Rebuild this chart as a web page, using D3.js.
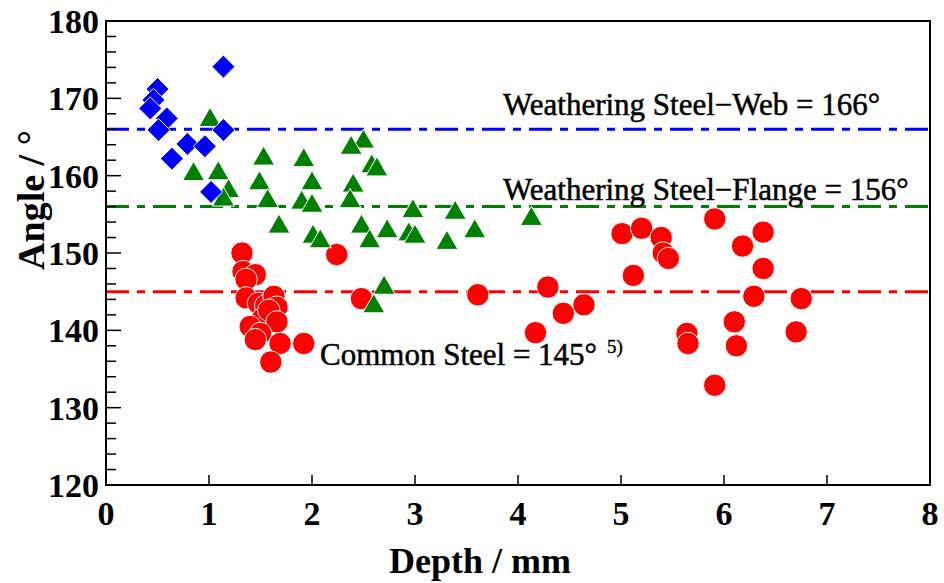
<!DOCTYPE html>
<html>
<head>
<meta charset="utf-8">
<script src="https://cdn.jsdelivr.net/npm/d3@7/dist/d3.min.js"></script>
<style>
  html, body { margin: 0; padding: 0; background: #fff; }
  svg { display: block; }
</style>
</head>
<body>
<svg id="chart" width="944" height="583"></svg>
<script>
// Weathering steel, web: [depth mm, angle deg]
const webDepth = [1.14, 0.50, 0.46, 0.43, 0.59, 0.51, 1.14, 0.79, 0.96, 0.64, 1.02];
const webAngle = [174.1, 171.2, 169.8, 168.7, 167.4, 165.9, 165.9, 164.1, 163.8, 162.2, 157.9];

// Weathering steel, flange
const flangeDepth = [1.01, 0.85, 1.09, 1.53, 1.92, 2.50, 2.38, 2.58, 2.63, 1.49, 2.00, 2.40,
  1.19, 1.14, 1.57, 1.90, 2.00, 2.37, 2.98, 3.39, 4.13, 1.68, 2.48, 2.73, 2.94, 3.00,
  3.58, 2.01, 2.08, 2.56, 3.31, 2.70, 2.60];
const flangeAngle = [167.6, 160.6, 160.7, 162.6, 162.4, 164.8, 164.0, 161.6, 161.2, 159.4, 159.4, 159.1,
  158.4, 157.3, 157.1, 156.9, 156.5, 157.1, 155.8, 155.6, 154.8, 153.8, 153.8, 153.2, 152.8, 152.5,
  153.2, 152.5, 151.9, 151.9, 151.7, 145.9, 143.5];

// Common steel
const commonDepth = [1.32, 1.33, 1.45, 1.36, 1.36, 1.48, 1.55, 1.63, 1.66, 1.52, 1.58, 1.40,
  1.66, 1.50, 1.45, 1.69, 1.92, 1.60, 2.24, 2.48, 3.61, 4.29, 4.44, 4.64, 4.17, 5.01,
  5.20, 5.12, 5.39, 5.41, 5.46, 5.91, 6.38, 6.18, 6.38, 6.29, 6.75, 6.10, 6.70, 5.64,
  5.65, 6.12, 5.91];
const commonAngle = [150.0, 147.6, 147.2, 146.6, 144.2, 143.5, 143.2, 144.4, 143.0, 141.5, 142.6, 140.5,
  141.1, 139.6, 138.8, 138.3, 138.3, 135.9, 149.8, 144.1, 144.6, 145.6, 142.2, 143.3, 139.7, 152.5,
  153.2, 147.1, 152.0, 150.0, 149.3, 154.4, 152.7, 150.9, 148.0, 144.4, 144.1, 141.1, 139.8, 139.6,
  138.3, 138.0, 132.9];

// Reference angles
const refNames = ["web", "flange", "common"];
const refValues = [166, 156, 145];
const refLabels = ["Weathering Steel\u2212Web = 166\u00B0", "Weathering Steel\u2212Flange = 156\u00B0", "Common Steel = 145\u00B0"];
const refNote = "5)";

const xTicks = [0, 1, 2, 3, 4, 5, 6, 7, 8];
const yTicks = [120, 130, 140, 150, 160, 170, 180];
const xTitle = "Depth / mm";
const yTitle = "Angle / \u00B0";

const SERIF = "'Liberation Serif', 'Times New Roman', Times, 'DejaVu Serif', serif";

const W = 944, H = 583;
const margin = { left: 106, right: 14, top: 21, bottom: 98 };
const svg = d3.select("#chart");
svg.append("rect").attr("width", W).attr("height", H).attr("fill", "#fff");

const x = d3.scaleLinear().domain([0, 8]).range([margin.left, W - margin.right]);
const y = d3.scaleLinear().domain([120, 180]).range([H - margin.bottom, margin.top]);

const colors = { web: "#0000ff", flange: "#008000", common: "#ff0000" };

// Reference lines (dash-dot)
const refG = svg.append("g");
refNames.forEach((n, i) => {
  refG.append("line")
    .attr("x1", x(0)).attr("x2", x(8))
    .attr("y1", y(refValues[i])).attr("y2", y(refValues[i]))
    .attr("stroke", colors[n]).attr("stroke-width", 3)
    .attr("stroke-dasharray", "23,8,8,8");
});

// Marker shapes
const triSymbol = {
  draw(ctx, size) {
    const a = Math.sqrt(size * 4 / Math.sqrt(3));
    const h = a * Math.sqrt(3) / 2;
    ctx.moveTo(0, -h / 2);
    ctx.lineTo(a / 2, h / 2);
    ctx.lineTo(-a / 2, h / 2);
    ctx.closePath();
  }
};
const diamondSymbol = {
  draw(ctx, size) {
    const r = Math.sqrt(size) / Math.SQRT2;
    ctx.moveTo(0, -r);
    ctx.lineTo(r, 0);
    ctx.lineTo(0, r);
    ctx.lineTo(-r, 0);
    ctx.closePath();
  }
};

function drawSeries(xs, ys, type, size, color) {
  const sym = d3.symbol().type(type).size(size);
  svg.append("g").selectAll("path")
    .data(d3.zip(xs, ys))
    .join("path")
    .attr("transform", d => `translate(${x(d[0])},${y(d[1])})`)
    .attr("d", sym)
    .attr("fill", color)
    .attr("stroke", "#fff")
    .attr("stroke-width", 1);
}

drawSeries(commonDepth, commonAngle, d3.symbolCircle, Math.PI * 11.2 * 11.2, colors.common);
drawSeries(flangeDepth, flangeAngle, triSymbol, 210, colors.flange);
drawSeries(webDepth, webAngle, diamondSymbol, 265, colors.web);

// Frame
svg.append("rect")
  .attr("x", x(0)).attr("y", y(180))
  .attr("width", x(8) - x(0)).attr("height", y(120) - y(180))
  .attr("fill", "none").attr("stroke", "#000").attr("stroke-width", 2);

// Y axis: inward ticks, major every 10, minor every 2
const yMinor = d3.range(122, 180, 2).filter(v => v % 10 !== 0);
const yAxis = svg.append("g");
yAxis.selectAll("line.minor").data(yMinor).join("line")
  .attr("x1", x(0)).attr("x2", x(0) + 10)
  .attr("y1", d => y(d)).attr("y2", d => y(d))
  .attr("stroke", "#000").attr("stroke-width", 1.5);
yAxis.selectAll("line.major").data(yTicks).join("line")
  .attr("x1", x(0)).attr("x2", x(0) + 15)
  .attr("y1", d => y(d)).attr("y2", d => y(d))
  .attr("stroke", "#000").attr("stroke-width", 1.5);
yAxis.selectAll("text").data(yTicks).join("text")
  .attr("font-family", SERIF).attr("font-weight", "bold")
  .attr("x", x(0) - 7).attr("y", d => y(d) + 12)
  .attr("text-anchor", "end").attr("font-size", 34)
  .text(d => d);

// X axis: inward ticks at integers
const xAxis = svg.append("g");
xAxis.selectAll("line").data(xTicks).join("line")
  .attr("x1", d => x(d)).attr("x2", d => x(d))
  .attr("y1", y(120)).attr("y2", y(120) - 10)
  .attr("stroke", "#000").attr("stroke-width", 1.5);
xAxis.selectAll("text").data(xTicks).join("text")
  .attr("font-family", SERIF).attr("font-weight", "bold")
  .attr("x", d => x(d)).attr("y", y(120) + 40)
  .attr("text-anchor", "middle").attr("font-size", 34)
  .text(d => d);

// Axis titles
svg.append("text")
  .attr("font-family", SERIF).attr("font-weight", "bold")
  .attr("x", 480).attr("y", 573)
  .attr("text-anchor", "middle").attr("font-size", 36)
  .text(xTitle);
svg.append("text")
  .attr("font-family", SERIF).attr("font-weight", "bold")
  .attr("transform", "translate(44,200) rotate(-90)")
  .attr("text-anchor", "middle").attr("font-size", 38)
  .text(yTitle);

// Reference labels (regular serif, slightly heavier via a thin outline)
const labelPos = [
  { x: 503, y: y(refValues[0]) - 14 },
  { x: 503, y: y(refValues[1]) - 7 },
  { x: 320, y: 365 }
];
refLabels.forEach((t, i) => {
  const el = svg.append("text")
    .attr("font-family", SERIF).attr("font-weight", "normal")
    .attr("x", labelPos[i].x).attr("y", labelPos[i].y)
    .attr("font-size", 31).attr("fill", "#000")
    .attr("stroke", "#000").attr("stroke-width", 0.5)
    .text(t);
  if (i === 2) {
    const bb = el.node().getBBox();
    svg.append("text")
      .attr("font-family", SERIF).attr("font-weight", "normal")
      .attr("x", bb.x + bb.width + 10).attr("y", labelPos[i].y - 12)
      .attr("stroke", "#000").attr("stroke-width", 0.4)
      .attr("font-size", 19).text(refNote);
  }
});
</script>
</body>
</html>
